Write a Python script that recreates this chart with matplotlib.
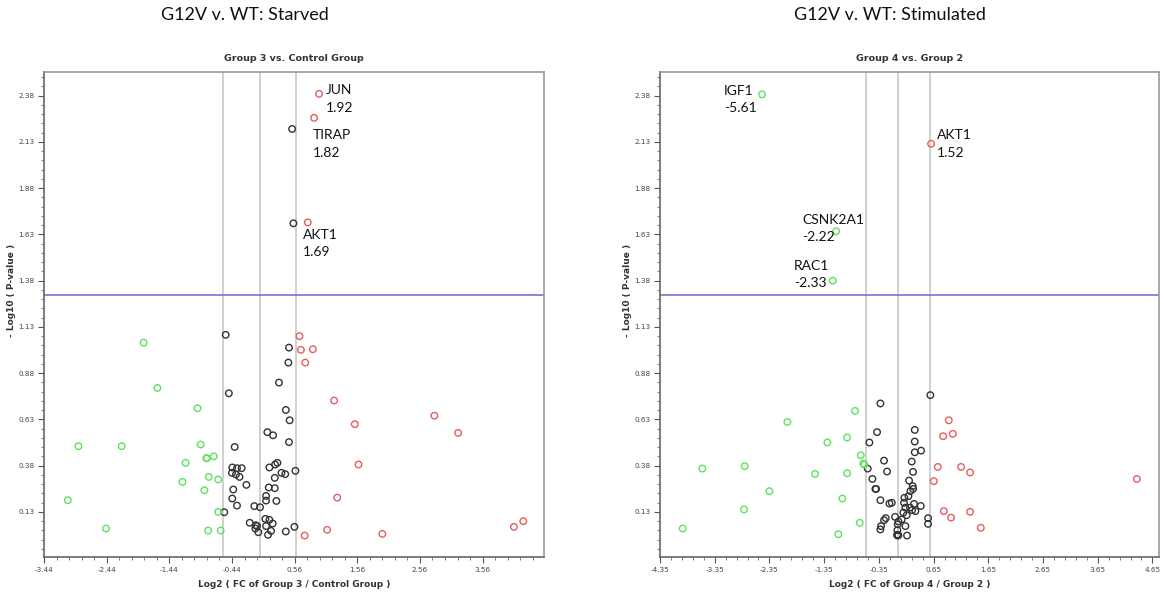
import numpy as np
import matplotlib
matplotlib.use("Agg")
import matplotlib.pyplot as plt
from matplotlib.ticker import FixedLocator, FormatStrFormatter

# ---- data: Starved (Group 3 vs. Control Group) ----
green_l_x = [-1.85, -1.63, -0.99, -2.89, -2.20, -0.94, -1.18, -0.85, -0.84, -0.73,
             -1.23, -0.81, -0.66, -0.88, -3.06, -0.66, -2.45, -0.82, -0.62]
green_l_y = [1.045, 0.80, 0.69, 0.485, 0.485, 0.494, 0.395, 0.42, 0.42, 0.43,
             0.292, 0.319, 0.305, 0.247, 0.193, 0.13, 0.04, 0.029, 0.029]
red_l_x = [0.95, 0.87, 0.77, 0.637, 0.66, 0.85, 0.73, 1.19, 1.52, 1.58, 1.24,
           1.08, 0.72, 1.96, 2.79, 3.17, 4.06, 4.21]
red_l_y = [2.39, 2.26, 1.695, 1.08, 1.006, 1.009, 0.937, 0.732, 0.604, 0.386, 0.207,
           0.033, 0.002, 0.011, 0.65, 0.557, 0.049, 0.08]
black_l_x = [0.52, 0.54, -0.54, 0.47, 0.46, 0.31, -0.49, 0.42, 0.48, 0.125, 0.216, 0.47,
             -0.397, -0.435, -0.36, -0.285, -0.44, -0.376, -0.32, 0.157, 0.248, 0.285,
             0.35, 0.41, 0.243, 0.573, -0.21, 0.147, 0.243, -0.419, 0.104, 0.104, 0.269,
             -0.435, -0.36, -0.083, 0.008, -0.563, 0.093, 0.157, 0.21, -0.157, -0.061,
             -0.04, -0.067, -0.019, 0.104, 0.184, 0.136, 0.419, 0.557]
black_l_y = [2.20, 1.69, 1.087, 1.018, 0.937, 0.829, 0.771, 0.681, 0.625, 0.561, 0.544, 0.507,
             0.481, 0.37, 0.366, 0.366, 0.341, 0.332, 0.319, 0.37, 0.386, 0.395,
             0.341, 0.334, 0.314, 0.352, 0.276, 0.262, 0.258, 0.251, 0.216, 0.191, 0.189,
             0.202, 0.164, 0.161, 0.155, 0.128, 0.092, 0.087, 0.067, 0.071, 0.058,
             0.053, 0.04, 0.02, 0.053, 0.027, 0.006, 0.024, 0.049]
labels_l = [("JUN\n1.92", 0.95, 2.39, (7, -5)),
            ("TIRAP\n1.82", 0.87, 2.26, (-1, -26)),
            ("AKT1\n1.69", 0.77, 1.695, (-5, -21))]

# ---- data: Stimulated (Group 4 vs. Group 2) ----
green_r_x = [-2.485, -1.132, -1.193, -0.785, -2.022, -0.931, -1.291, -0.681, -0.633, -0.615,
             -2.802, -3.576, -1.516, -0.931, -2.351, -1.017, -2.814, -0.70, -3.936, -1.09]
green_r_y = [2.387, 1.647, 1.38, 0.676, 0.616, 0.532, 0.505, 0.436, 0.391, 0.386,
             0.377, 0.364, 0.335, 0.339, 0.242, 0.202, 0.143, 0.071, 0.04, 0.009]
red_r_x = [0.604, 0.928, 0.824, 1.001, 0.727, 1.153, 1.317, 0.654, 4.365, 0.837, 1.317, 0.97, 1.513]
red_r_y = [2.12, 0.625, 0.539, 0.552, 0.373, 0.373, 0.343, 0.296, 0.308, 0.134, 0.13, 0.099, 0.044]
black_r_x = [-0.322, -0.383, -0.523, -0.255, -0.553, -0.20, -0.468, -0.413, -0.40, -0.322,
             -0.157, -0.114, -0.054, -0.224, -0.255, -0.31, -0.322, 0.007, -0.005, -0.011,
             -0.011, -0.015, -0.008, 0.007,
             0.591, 0.306, 0.306, 0.306, 0.422, 0.251, 0.275, 0.202, 0.269, 0.275, 0.226,
             0.19, 0.117, 0.11, 0.293, 0.416, 0.22, 0.135, 0.318, 0.257, 0.098, 0.159,
             0.068, 0.135, 0.165, 0.55, 0.55]
black_r_y = [0.716, 0.561, 0.505, 0.407, 0.364, 0.348, 0.308, 0.254, 0.254, 0.193,
             0.175, 0.179, 0.103, 0.096, 0.085, 0.053, 0.035, 0.078, 0.063, 0.031,
             0.004, 0.006, 0.002, 0.004,
             0.761, 0.573, 0.51, 0.452, 0.461, 0.402, 0.346, 0.299, 0.269, 0.254, 0.242,
             0.215, 0.206, 0.179, 0.173, 0.162, 0.153, 0.153, 0.134, 0.139, 0.126, 0.112,
             0.089, 0.053, 0.002, 0.096, 0.065]
labels_r = [("IGF1\n-5.61", -2.485, 2.387, (-38, -5)),
            ("CSNK2A1\n-2.22", -1.132, 1.647, (-34, 3)),
            ("RAC1\n-2.33", -1.193, 1.38, (-39, 6)),
            ("AKT1\n1.52", 0.604, 2.12, (6, 0))]

GREEN, RED, BLACK = "#5fe05f", "#e85c5c", "#333333"
fig = plt.figure(figsize=(11.64, 5.94), dpi=100)
ax1 = fig.add_axes([44/1164, 1-557/594, 500/1164, 485/594])
ax2 = fig.add_axes([660/1164, 1-557/594, 499/1164, 485/594])

def panel(ax, gx, gy, rx, ry, kx, ky, labels, xmin, xmax, subtitle, xlabel):
    ax.axvline(-0.585, color="#c8c8c8", lw=1.2, zorder=1)
    ax.axvline(0.0, color="#c8c8c8", lw=1.2, zorder=1)
    ax.axvline(0.585, color="#c8c8c8", lw=1.2, zorder=1)
    ax.axhline(1.301, color="#7373cf", lw=1.2, zorder=1)
    for xs, ys, c in [(kx, ky, BLACK), (gx, gy, GREEN), (rx, ry, RED)]:
        ax.scatter(xs, ys, s=22, facecolors="none", edgecolors=c, linewidths=1.0, zorder=3)
    for txt, x, y, off in labels:
        ax.annotate(txt, (x, y), xytext=(off[0]*0.72, off[1]*0.72), textcoords="offset points",
                    ha="left", va="center", fontsize=10, family="Lato", color="#111111",
                    linespacing=1.55)
    ax.set_xlim(xmin, xmax)
    ax.set_ylim(-0.114, 2.508)
    ax.xaxis.set_major_locator(FixedLocator(np.arange(xmin, xmax + 0.01, 1.0)))
    ax.xaxis.set_minor_locator(FixedLocator(np.arange(xmin, xmax + 0.01, 0.2)))
    ax.yaxis.set_major_locator(FixedLocator(np.arange(0.13, 2.4, 0.25)))
    ax.yaxis.set_minor_locator(FixedLocator(np.arange(-0.12, 2.51, 0.05)))
    ax.xaxis.set_major_formatter(FormatStrFormatter("%.2f"))
    ax.yaxis.set_major_formatter(FormatStrFormatter("%.2f"))
    ax.tick_params(which="major", length=4, width=0.8, color="#555555", labelsize=5.2,
                   labelcolor="#444444", pad=3)
    ax.tick_params(which="minor", length=2, width=0.6, color="#666666")
    for s in ["left", "bottom"]:
        ax.spines[s].set_color("#666666")
        ax.spines[s].set_linewidth(1.2)
    for s in ["top", "right"]:
        ax.spines[s].set_color("#999999")
        ax.spines[s].set_linewidth(1.2)
    ax.set_xlabel(xlabel, fontsize=6.5, fontweight="bold", color="#333333", labelpad=5)
    ax.set_title(subtitle, fontsize=6.8, fontweight="bold", color="#333333", pad=8)

panel(ax1, green_l_x, green_l_y, red_l_x, red_l_y, black_l_x, black_l_y, labels_l,
      -3.44, 4.54, "Group 3 vs. Control Group", "Log2 ( FC of Group 3 / Control Group )")
panel(ax2, green_r_x, green_r_y, red_r_x, red_r_y, black_r_x, black_r_y, labels_r,
      -4.35, 4.77, "Group 4 vs. Group 2", "Log2 ( FC of Group 4 / Group 2 )")

fig.text(12/1164, 1-290/594, "- Log10 ( P-value )", rotation=90, fontsize=6.5,
         fontweight="bold", color="#333333", ha="center", va="center")
fig.text(628/1164, 1-290/594, "- Log10 ( P-value )", rotation=90, fontsize=6.5,
         fontweight="bold", color="#333333", ha="center", va="center")
fig.text(245/1164, 1-15/594, "G12V v. WT: Starved", fontsize=13, family="Lato",
         ha="center", va="center", color="#111111")
fig.text(890/1164, 1-15/594, "G12V v. WT: Stimulated", fontsize=13, family="Lato",
         ha="center", va="center", color="#111111")

fig.savefig("out.png", dpi=100)
